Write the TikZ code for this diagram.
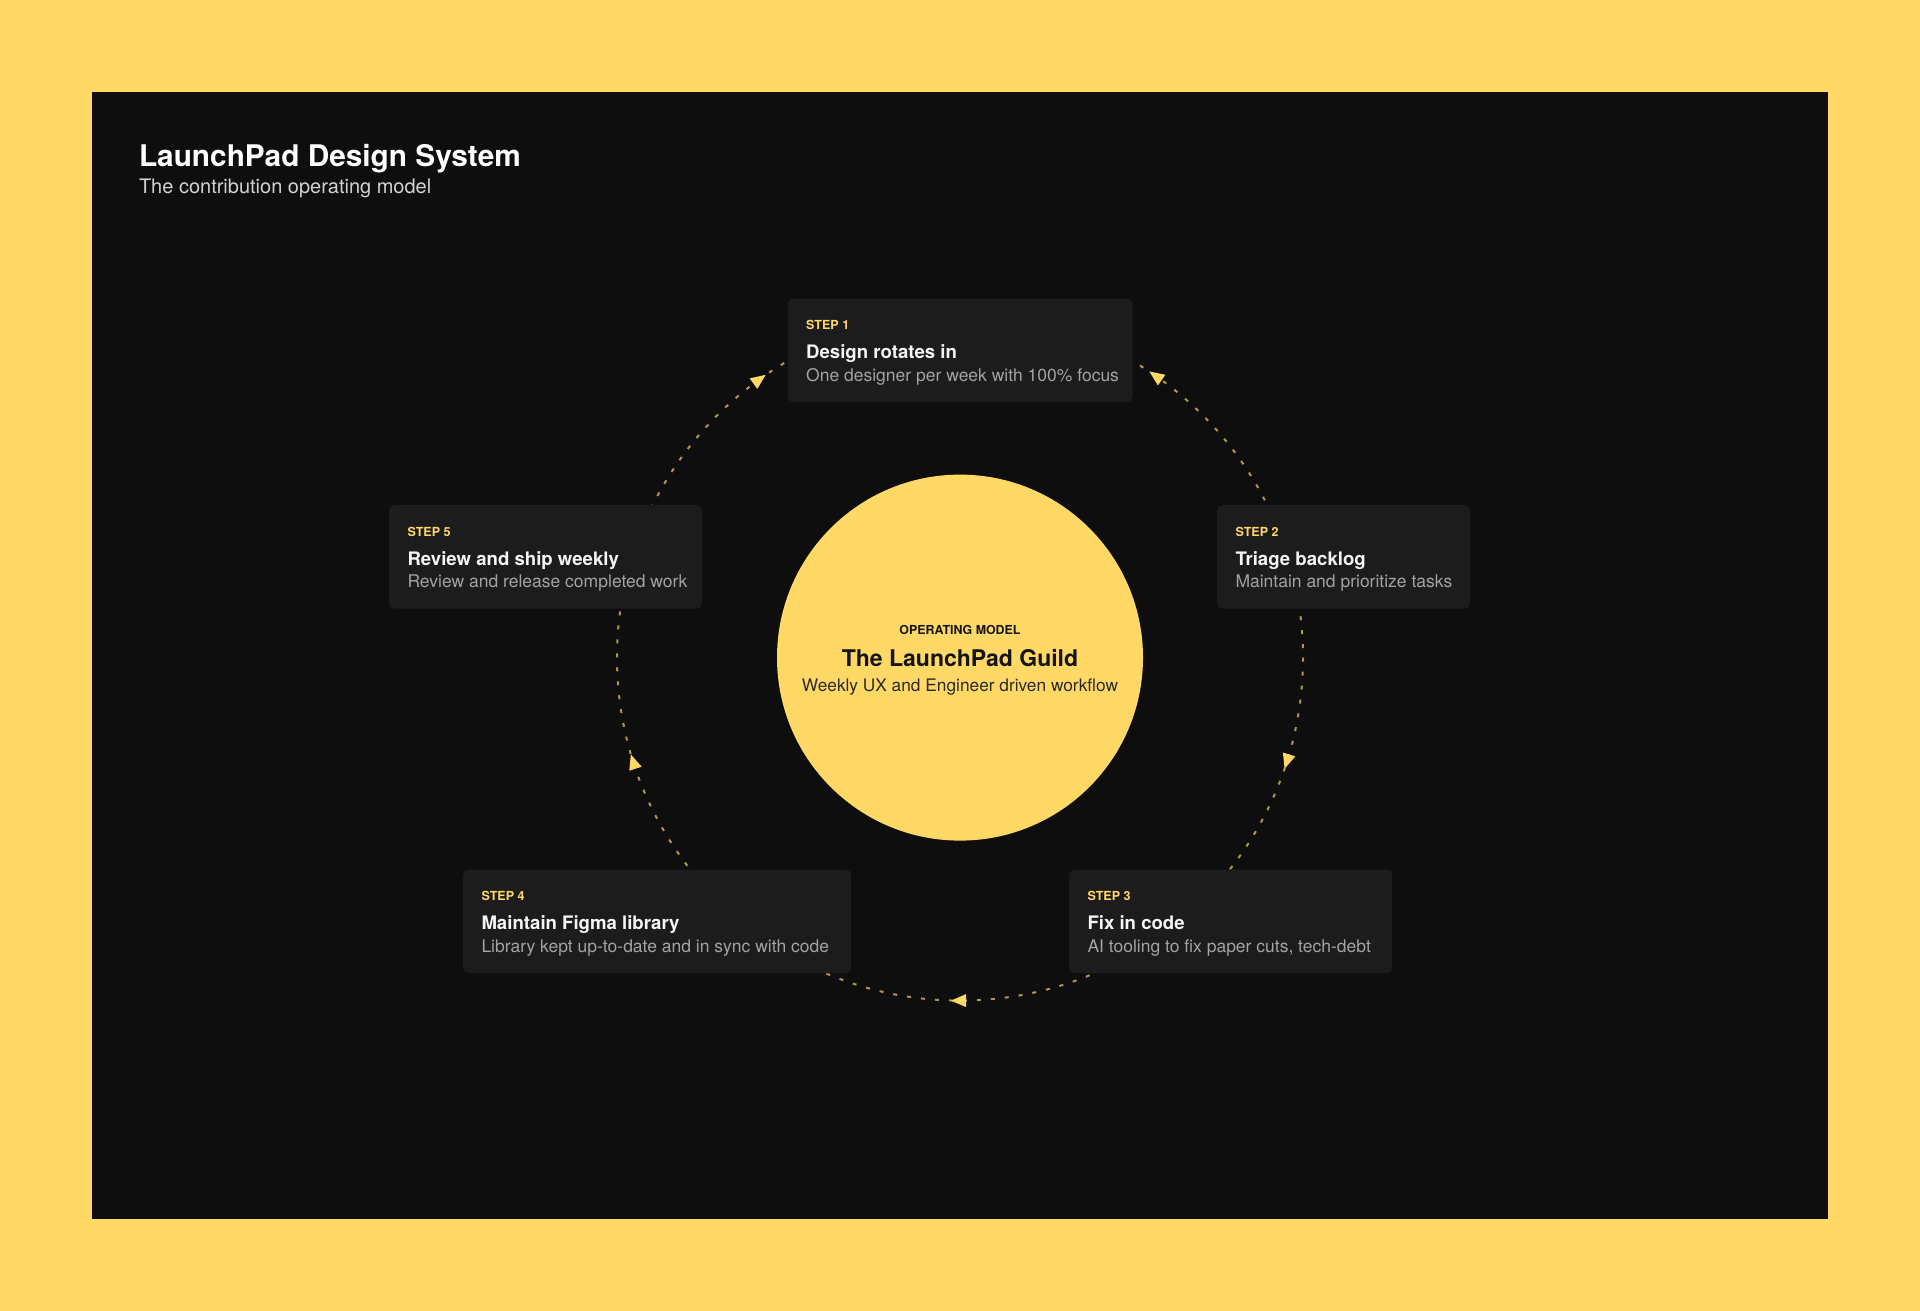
\documentclass[tikz,border=0pt]{standalone}
\usepackage{fontspec}
\setmainfont{TeX Gyre Heros}
\usetikzlibrary{calc}
\definecolor{bgy}{HTML}{FFD866}
\definecolor{panelc}{HTML}{0E0E0E}
\definecolor{boxc}{HTML}{1C1C1C}
\definecolor{ringc}{HTML}{B09650}
\definecolor{subc}{HTML}{D2D2D2}
\definecolor{stitlec}{HTML}{F5F5F5}
\definecolor{descc}{HTML}{A3A3A3}
\definecolor{hubtxt}{HTML}{141414}
\definecolor{hubdesc}{HTML}{2A2A2A}
\begin{document}
\begin{tikzpicture}[x=1pt,y=-1pt,
  stepbox/.style={fill=boxc, rounded corners=5pt, inner sep=0pt, anchor=north west},
  txt/.style={inner sep=0pt, outer sep=0pt},
  steplbl/.style={txt, anchor=base west, text=bgy, font=\bfseries\fontsize{12.5}{15}\selectfont},
  steptitle/.style={txt, anchor=base west, text=stitlec, font=\bfseries\fontsize{18.6}{22}\selectfont},
  stepdesc/.style={txt, anchor=base west, text=descc, font=\fontsize{17.5}{19}\selectfont},
  hub/.style={circle, fill=bgy, inner sep=0pt, minimum size=366pt},
  ring/.style={draw=ringc, line width=2pt, dash pattern=on 4pt off 10pt},
  arrowc/.style={fill=bgy},
]
\useasboundingbox (0,0) rectangle (1920,1311);
\fill[bgy] (0,0) rectangle (1920,1311);
\fill[panelc] (92,92) rectangle (1828,1219);

% title
\node[txt, anchor=base west, text=white, font=\bfseries\fontsize{29.8}{34}\selectfont] (title) at (139,166.7) {LaunchPad Design System};
\node[txt, anchor=base west, text=subc, font=\fontsize{20}{23}\selectfont] (subtitle) at (139,193.3) {The contribution operating model};

% hub
\node[hub] (hub) at (960,657.6) {};
\draw[ring] (hub.center) circle[radius=343];

% arrows on the ring
\fill[arrowc, shift={($(hub.center)+(-126:343)$)}, rotate=36] (9,0) -- (-6,6.5) -- (-6,-6.5) -- cycle;
\fill[arrowc, shift={($(hub.center)+(-55:343)$)}, rotate=145] (9,0) -- (-6,6.5) -- (-6,-6.5) -- cycle;
\fill[arrowc, shift={($(hub.center)+(17.4:343)$)}, rotate=-107.4] (9,0) -- (-6,6.5) -- (-6,-6.5) -- cycle;
\fill[arrowc, shift={($(hub.center)+(90:343)$)}, rotate=180] (9,0) -- (-6,6.5) -- (-6,-6.5) -- cycle;
\fill[arrowc, shift={($(hub.center)+(-197.9:343)$)}, rotate=107.9] (9,0) -- (-6,6.5) -- (-6,-6.5) -- cycle;

% hub text
\node[txt, anchor=base, text=hubtxt, font=\bfseries\fontsize{12.4}{15}\selectfont] (hubl) at (960,634) {OPERATING MODEL};
\node[txt, anchor=base, text=hubtxt, font=\bfseries\fontsize{23}{26}\selectfont] (hubt) at (960,666.7) {The LaunchPad Guild};
\node[txt, anchor=base, text=hubdesc, font=\fontsize{17.3}{19}\selectfont] (hubd) at (960,691.7) {Weekly UX and Engineer driven workflow};

% step 1
\node[stepbox, minimum width=344.6pt, minimum height=103.4pt] (s1) at (787.7,298.3) {};
\node[steplbl] (s1a) at ($(s1.north west)+(18.5,31)$) {STEP 1};
\node[steptitle] (s1b) at ($(s1.north west)+(18.5,60)$) {Design rotates in};
\node[stepdesc] (s1c) at ($(s1.north west)+(18.5,82.8)$) {One designer per week with 100\% focus};

% step 2
\node[stepbox, minimum width=253pt, minimum height=103.4pt] (s2) at (1217,505) {};
\node[steplbl] (s2a) at ($(s2.north west)+(18.5,31)$) {STEP 2};
\node[steptitle] (s2b) at ($(s2.north west)+(18.5,60)$) {Triage backlog};
\node[stepdesc] (s2c) at ($(s2.north west)+(18.5,82.8)$) {Maintain and prioritize tasks};

% step 3
\node[stepbox, minimum width=323pt, minimum height=103.4pt] (s3) at (1069,869.5) {};
\node[steplbl] (s3a) at ($(s3.north west)+(18.5,31)$) {STEP 3};
\node[steptitle] (s3b) at ($(s3.north west)+(18.5,60)$) {Fix in code};
\node[stepdesc] (s3c) at ($(s3.north west)+(18.5,82.8)$) {AI tooling to fix paper cuts, tech-debt};

% step 4
\node[stepbox, minimum width=388pt, minimum height=103.4pt] (s4) at (463,869.5) {};
\node[steplbl] (s4a) at ($(s4.north west)+(18.5,31)$) {STEP 4};
\node[steptitle] (s4b) at ($(s4.north west)+(18.5,60)$) {Maintain Figma library};
\node[stepdesc] (s4c) at ($(s4.north west)+(18.5,82.8)$) {Library kept up-to-date and in sync with code};

% step 5
\node[stepbox, minimum width=313pt, minimum height=103.4pt] (s5) at (389,505) {};
\node[steplbl] (s5a) at ($(s5.north west)+(18.5,31)$) {STEP 5};
\node[steptitle] (s5b) at ($(s5.north west)+(18.5,60)$) {Review and ship weekly};
\node[stepdesc] (s5c) at ($(s5.north west)+(18.5,82.8)$) {Review and release completed work};
\end{tikzpicture}
\end{document}
